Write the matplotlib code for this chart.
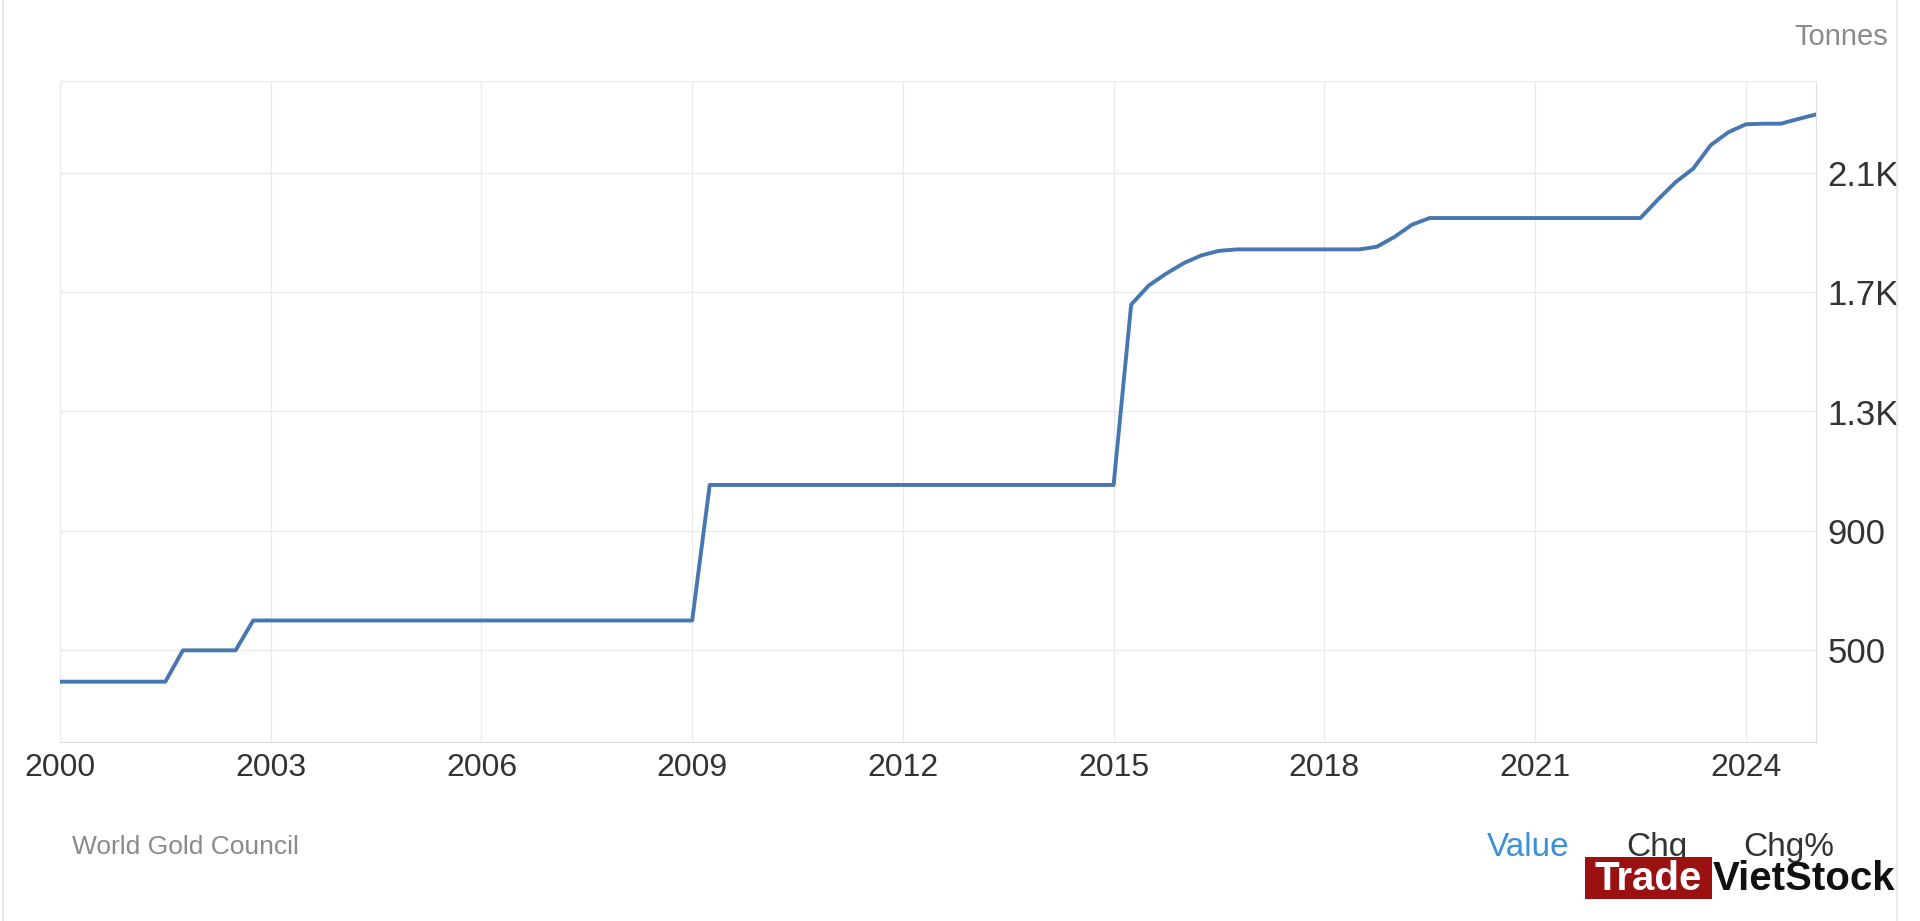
import matplotlib
matplotlib.use("Agg")

import matplotlib.pyplot as plt
from matplotlib.patches import Rectangle
from matplotlib.lines import Line2D

plt.rcParams["font.family"] = ["Liberation Sans", "DejaVu Sans"]

###--------------------data (quarterly knots)---------------###
# decimal year of the quarter, gold reserves in tonnes
dates = [2000.00, 2001.50, 2001.75, 2002.50, 2002.75, 2009.00, 2009.25,
         2015.00, 2015.25, 2015.50, 2015.75, 2016.00, 2016.25, 2016.50,
         2016.75, 2018.50, 2018.75, 2019.00, 2019.25, 2019.50, 2022.50,
         2022.75, 2023.00, 2023.25, 2023.50, 2023.75, 2024.00, 2024.25,
         2024.50, 2024.75, 2025.00]
tonnes = [395, 395, 500, 500, 600, 600, 1054,
          1054, 1658, 1722, 1762, 1797, 1823, 1838,
          1843, 1843, 1852, 1885, 1926, 1948, 1948,
          2010, 2068, 2113, 2192, 2235, 2262, 2264,
          2264, 2280, 2295]

year_ticks = [2000, 2003, 2006, 2009, 2012, 2015, 2018, 2021, 2024]
value_ticks = [500, 900, 1300, 1700, 2100]
value_labels = ["500", "900", "1.3K", "1.7K", "2.1K"]

###--------------------figure-------------------------------###
fig = plt.figure(figsize=(19.2, 9.21), dpi=100, facecolor="white")
ax = fig.add_axes([60 / 1920, 1 - 742 / 921, (1816 - 60) / 1920, (742 - 81) / 921])

ax.plot(dates, tonnes, color="#4677b0", lw=2.8, solid_joinstyle="round",
        solid_capstyle="round", zorder=3)

ax.set_xlim(2000, 2025.0)
ax.set_ylim(193, 2407)

ax.set_xticks(year_ticks)
ax.set_xticklabels([str(y) for y in year_ticks])
ax.yaxis.tick_right()
ax.set_yticks(value_ticks + [2407])
ax.set_yticklabels(value_labels + [""])

ax.grid(True, color="#ebebeb", lw=1.0, zorder=0)
ax.tick_params(axis="both", length=0, labelcolor="#333333")
ax.tick_params(axis="x", pad=8, labelsize=23)
ax.tick_params(axis="y", pad=8, labelsize=25)

for side in ["left", "top"]:
    ax.spines[side].set_color("#ebebeb")
for side in ["right", "bottom"]:
    ax.spines[side].set_color("#dcdcdc")

###--------------------texts--------------------------------###
fig.text(1888 / 1920, 1 - 37 / 921, "Tonnes", ha="right", va="center",
         fontsize=21, color="#8a8a8a")
fig.text(72 / 1920, 1 - 847 / 921, "World Gold Council", ha="left", va="center",
         fontsize=19, color="#8a8a8a")
fig.text(1487 / 1920, 1 - 847 / 921, "Value", ha="left", va="center",
         fontsize=24, color="#3d8fd6")
fig.text(1626 / 1920, 1 - 847 / 921, "Chg", ha="left", va="center",
         fontsize=24, color="#333333")
fig.text(1743 / 1920, 1 - 847 / 921, "Chg%", ha="left", va="center",
         fontsize=24, color="#333333")

###--------------------watermark----------------------------###
fig.patches.append(Rectangle((1585 / 1920, 1 - 899 / 921), 127 / 1920, 42 / 921,
                             transform=fig.transFigure, facecolor="#9b1111",
                             edgecolor="none", zorder=5))
fig.text(1648 / 1920, 1 - 879 / 921, "Trade", ha="center", va="center",
         fontsize=29, fontweight="bold", color="white", zorder=6)
fig.text(1713 / 1920, 1 - 879 / 921, "VietStock", ha="left", va="center",
         fontsize=29, fontweight="bold", color="#111111", zorder=6)

###--------------------frame lines--------------------------###
fig.add_artist(Line2D([3 / 1920, 3 / 1920], [0, 1], color="#e6e6e6", lw=1.2,
                      transform=fig.transFigure))
fig.add_artist(Line2D([1897 / 1920, 1897 / 1920], [0, 1], color="#e6e6e6", lw=1.2,
                      transform=fig.transFigure))

fig.savefig("out.png", dpi=100, facecolor="white")
